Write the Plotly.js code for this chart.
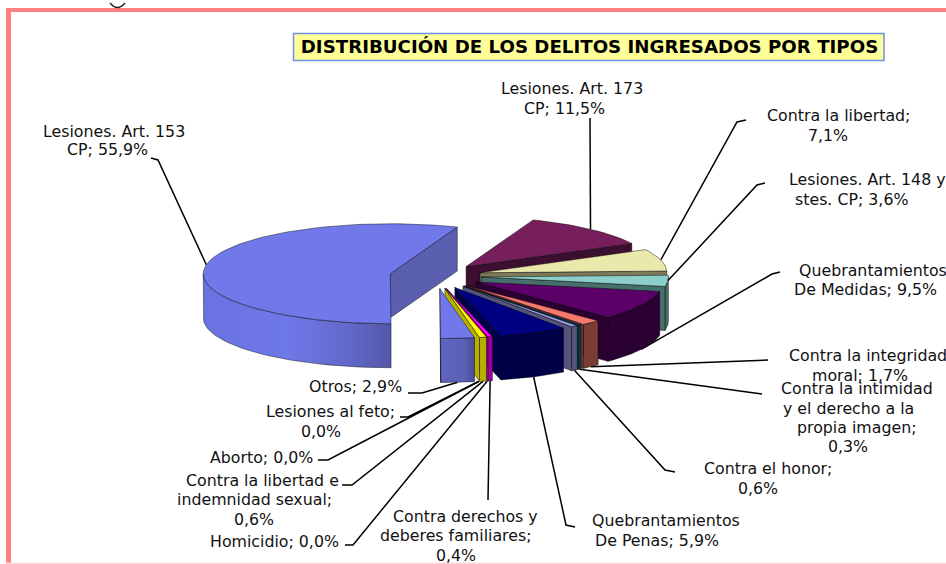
<!DOCTYPE html>
<html><head><meta charset="utf-8">
<script src="https://cdn.plot.ly/plotly-3.0.1.min.js"></script>
<style>html,body{margin:0;padding:0;background:#fff}</style></head>
<body><div id="chart" style="width:946px;height:564px"></div>
<script>
const chartTitle = "DISTRIBUCIÓN DE LOS DELITOS INGRESADOS POR TIPOS";
const categories = ["Lesiones. Art. 173 CP","Contra la libertad","Lesiones. Art. 148 y stes. CP","Quebrantamientos De Medidas","Contra la integridad moral","Contra la intimidad y el derecho a la propia imagen","Contra el honor","Quebrantamientos De Penas","Contra derechos y deberes familiares","Homicidio","Contra la libertad e indemnidad sexual","Aborto","Lesiones al feto","Otros","Lesiones. Art. 153 CP"];
const values = [11.5,7.1,3.6,9.5,1.7,0.3,0.6,5.9,0.4,0,0.6,0,0,2.9,55.9];
const topColors = ["#761f5c","#ebe8ac","#8ccfca","#5a0068","#f4786c","#004a66","#9a9ae0","#000080","#ff00ff","#cccc00","#ffff00","#888888","#888888","#7078ea","#7078ea"];
const wallColors = ["#3c0f30","#7d7a5a","#47706c","#2b0033","#7a3d33","#0b3c52","#55557c","#000048","#a000a0","#888800","#b8b000","#555555","#555555","#575cae","#6a72de"];
const cutColors = ["#3c0f30","#7d7a5a","#47706c","#2b0033","#7a3d33","#0b3c52","#55557c","#000048","#a000a0","#888800","#b8b000","#555555","#555555","#575cae","#5a5fb0"];
// Label lines, one group per category
const labelLines = [["Lesiones. Art. 173","CP; 11,5%"],["Contra la libertad;","7,1%"],["Lesiones. Art. 148 y","stes. CP; 3,6%"],["Quebrantamientos","De Medidas; 9,5%"],["Contra la integridad","moral; 1,7%"],["Contra la intimidad","y el derecho a la","propia imagen;","0,3%"],["Contra el honor;","0,6%"],["Quebrantamientos","De Penas; 5,9%"],["Contra derechos y","deberes familiares;","0,4%"],["Homicidio; 0,0%"],["Contra la libertad e","indemnidad sexual;","0,6%"],["Aborto; 0,0%"],["Lesiones al feto;","0,0%"],["Otros; 2,9%"],["Lesiones. Art. 153","CP; 55,9%"]];

// Layout of the label lines (centre x, centre y of each line)
const labelX = [[572,564],[838,828],[867,851],[873,865],[868,860],[857,848,857,848],[768,758],[666,657],[465,456,456],[274],[262,254,254],[261],[330,321],[355],[114,107]];
const labelY = [[88,108],[115,135],[179,199],[270,289],[355,375],[388,408,427,446],[468,488],[520,540],[516,535,555],[541],[480,499,519],[457],[411,431],[386],[131,149]];
const leaderElbow = [[590,118],[737,122],[757,185],[772,274],[768,360],[752,393],[665,470],[566,525],[488,500],[353,545],[352,485],[328,460],[408,417],[422,393],[158,160]];
const leaderEnd = [[590,118],[746,120],[765,183],[780,272],[768,360],[762,394],[675,472],[575,527],[488,500],[345,545],[342,485],[318,460],[400,417],[408,393],[151,158]];

// Pie geometry
const cx = 435.5, cy = 276, rx = 187, ry = 50, depth = 44, explodeX = 46, explodeY = 12.6, startAngle = 21;
const rad = d => d * Math.PI / 180;
const total = values.reduce((a, b) => a + b, 0);

const traces = [];
function poly(xs, ys, fill, line, grad) {
  const t = {type:"scatter", mode:"lines", x:xs.concat(xs[0]), y:ys.concat(ys[0]), fill:"toself", fillcolor:fill,
    line:{color:line || "rgba(0,0,0,0.55)", width:0.8}, hoverinfo:"skip", showlegend:false};
  if (grad) t.fillgradient = {type:"horizontal", colorscale:grad};
  traces.push(t);
}
// angles clockwise from the back of the pie
let acc = startAngle;
const slices = values.map((v, i) => { const a0 = acc; acc += v / total * 360; return {i, v, a0, a1: acc, mid: (a0 + acc) / 2}; });
const apex = s => [cx + explodeX * Math.sin(rad(s.mid)), cy - explodeY * Math.cos(rad(s.mid))];
const rim = (c, a) => [c[0] + rx * Math.sin(rad(a)), c[1] - ry * Math.cos(rad(a))];
function arc(c, a0, a1) { const n = Math.max(2, Math.ceil((a1 - a0) / 2)), p = []; for (let k = 0; k <= n; k++) p.push(rim(c, a0 + (a1 - a0) * k / n)); return p; }

// Leader lines lie beneath the pie
slices.forEach(s => {
  const c = apex(s), p = rim(c, s.mid), front = Math.cos(rad(s.mid)) < -0.2;
  const sy = p[1] + (front ? depth : 0), e = leaderElbow[s.i], f = leaderEnd[s.i];
  traces.push({type:"scatter", mode:"lines", x:[p[0],e[0],f[0]], y:[sy,e[1],f[1]], line:{color:"#000",width:1.5}, hoverinfo:"skip", showlegend:false});
});

function drawSlice(s) {
  if (s.v <= 0) return;
  const c = apex(s), i = s.i, big = i === 14;
  // outer wall, where the rim faces the viewer
  const lo = Math.max(s.a0, 90), hi = Math.min(s.a1, 270);
  if (hi > lo) {
    const a = arc(c, lo, hi), xs = a.map(p => p[0]), ys = a.map(p => p[1]);
    const rx2 = xs.slice().reverse(), ry2 = ys.slice().reverse().map(y => y + depth);
    const grad = big ? [[0,"#6a72e0"],[0.45,"#6f78e8"],[0.75,"#6269cc"],[1,"#5458a8"]]
               : (i === 13 ? [[0,"#5f65c0"],[0.7,"#5a60b4"],[1,"#484c96"]] : null);
    poly(xs.concat(rx2), ys.concat(ry2), wallColors[i], null, grad);
  }
  // end cut wall
  const e = rim(c, s.a1);
  if (Math.sin(rad(s.a1)) > 0) poly([c[0], e[0], e[0], c[0]], [c[1], e[1], e[1] + depth, c[1] + depth], cutColors[i]);
  // top face
  const a = arc(c, s.a0, s.a1);
  poly([c[0]].concat(a.map(p => p[0])), [c[1]].concat(a.map(p => p[1])), topColors[i]);
}
drawSlice(slices[14]);
slices.slice(0, 14).forEach(drawSlice);

const annotations = [];
labelLines.forEach((lines, i) => lines.forEach((t, j) => annotations.push({
  text:t, x:labelX[i][j], y:labelY[i][j], xref:"x", yref:"y", showarrow:false, xanchor:"center", yanchor:"middle",
  font:{family:"DejaVu Sans, Verdana, sans-serif", size:15.8, color:"#111"}
})));

const pink = "#ff8080";
const layout = {
  width:946, height:564, margin:{l:0,r:0,t:0,b:0}, paper_bgcolor:"#fff", plot_bgcolor:"#fff", showlegend:false,
  xaxis:{range:[0,946], visible:false, fixedrange:true},
  yaxis:{range:[564,0], visible:false, fixedrange:true},
  title:{text:"<b>"+chartTitle+"</b>", x:589.5/946, xanchor:"center", xref:"paper", y:1-47/564, yanchor:"middle", yref:"paper",
    font:{family:"DejaVu Sans, Verdana, sans-serif", size:18.2, color:"#000"}},
  annotations,
  shapes:[
    {type:"rect", xref:"x", yref:"y", x0:293.5, x1:884, y0:33.5, y1:60.5, fillcolor:"#ffff99", line:{color:"#6f8fe8", width:1.5}, layer:"below"},
    {type:"rect", xref:"x", yref:"y", x0:6, x1:946, y0:8, y1:12, fillcolor:pink, line:{width:0}, layer:"below"},
    {type:"rect", xref:"x", yref:"y", x0:6, x1:11, y0:8, y1:564, fillcolor:pink, line:{width:0}, layer:"below"},
    {type:"rect", xref:"x", yref:"y", x0:6, x1:946, y0:562.5, y1:564, fillcolor:"#ffd8d8", line:{width:0}, layer:"below"},
    {type:"path", xref:"x", yref:"y", path:"M 110 3 Q 117.5 12 125 3", line:{color:"#222", width:1.3}, layer:"below"}
  ]
};
Plotly.newPlot("chart", traces, layout, {displayModeBar:false, staticPlot:true});
</script></body></html>
